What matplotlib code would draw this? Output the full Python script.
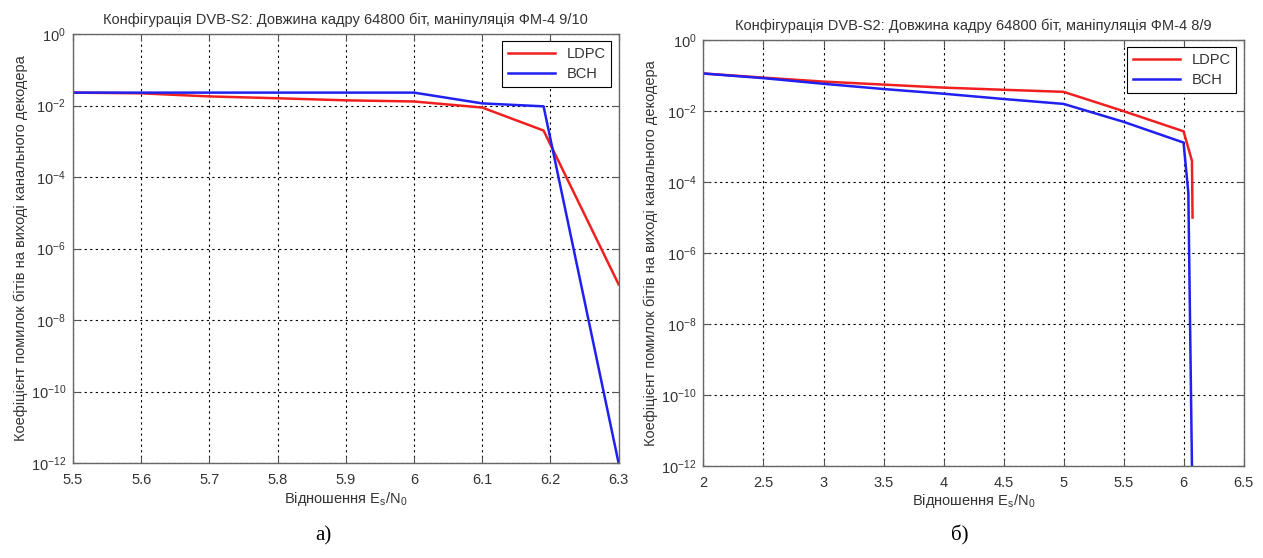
import numpy as np
import matplotlib
matplotlib.use('Agg')
import matplotlib.pyplot as plt
from matplotlib.ticker import FixedLocator, NullLocator

plt.rcParams['font.family'] = ['Liberation Sans', 'DejaVu Sans']

#************ data ****************************************
# (a) FM-4 9/10
es_a      = [5.5, 5.6, 5.7, 5.8, 5.9, 6.0, 6.1, 6.19, 6.3]
ldpc_a    = [2.3e-2, 2.2e-2, 1.8e-2, 1.6e-2, 1.4e-2, 1.3e-2, 8.8e-3, 2.0e-3, 1e-7]
es_a_bch  = [5.5, 6.0, 6.1, 6.19, 6.3]
bch_a     = [2.3e-2, 2.3e-2, 1.15e-2, 9.5e-3, 1e-12]

# (b) FM-4 8/9
es_b      = [2.0, 2.5, 3.0, 3.5, 4.0, 4.5, 5.0, 5.5, 6.0, 6.07, 6.075]
ldpc_b    = [0.115, 0.088, 0.068, 0.056, 0.046, 0.040, 0.035, 0.010, 2.7e-3, 4e-4, 1e-5]
es_b_bch  = [2.0, 2.5, 3.0, 3.5, 4.0, 4.5, 5.0, 5.5, 6.0, 6.04, 6.07]
bch_b     = [0.115, 0.085, 0.059, 0.042, 0.031, 0.022, 0.016, 5e-3, 1.3e-3, 5e-5, 1e-12]

title_a = 'Конфігурація DVB-S2: Довжина кадру 64800 біт, маніпуляція ФМ-4 9/10'
title_b = 'Конфігурація DVB-S2: Довжина кадру 64800 біт, маніпуляція ФМ-4 8/9'
ylabel  = 'Коефіцієнт помилок бітів на виході канального декодера'
xlabel  = 'Відношення E$_\\mathregular{s}$/N$_\\mathregular{0}$'

xticks_a = [5.5, 5.6, 5.7, 5.8, 5.9, 6.0, 6.1, 6.2, 6.3]
xticks_b = [2, 2.5, 3, 3.5, 4, 4.5, 5, 5.5, 6, 6.5]
yticks   = [1e-12, 1e-10, 1e-8, 1e-6, 1e-4, 1e-2, 1e0]
#************ end of data ******************

txt = '#333333'
fig = plt.figure(figsize=(12.63, 5.58), dpi=100)
ax_a = fig.add_axes([0.0578, 0.170, 0.432, 0.769])
ax_b = fig.add_axes([0.557, 0.165, 0.4276, 0.763])


def style(ax, xticks, title):
	ax.set_yscale('log')
	ax.set_ylim(1e-12, 1e0)
	ax.set_xlim(xticks[0], xticks[-1])
	ax.xaxis.set_major_locator(FixedLocator(xticks))
	ax.yaxis.set_major_locator(FixedLocator(yticks))
	ax.yaxis.set_minor_locator(NullLocator())
	ax.set_xticklabels([('%g' % t) for t in xticks])
	ax.tick_params(direction='in', top=True, right=True, length=5, width=0.8,
				   colors='#555555', labelcolor=txt, labelsize=10.5)
	ax.tick_params(axis='x', pad=7)
	ax.tick_params(axis='y', pad=5)
	ax.grid(True, color='black', linestyle=(0, (2, 3)), linewidth=0.8)
	for s in ax.spines.values():
		s.set_color('#666666')
		s.set_linewidth(1.0)
	ax.set_title(title, fontsize=10.5, color=txt, pad=7)
	ax.set_xlabel(xlabel, fontsize=10.5, color=txt, labelpad=2)
	ax.set_ylabel(ylabel, fontsize=10.5, color=txt, labelpad=2)
	leg = ax.legend(loc='upper right', fontsize=10.5, fancybox=False,
					edgecolor='black', framealpha=1, handlelength=3.2,
					borderpad=0.4, labelspacing=0.4, borderaxespad=0.5)
	leg.get_frame().set_linewidth(0.8)
	for t in leg.get_texts():
		t.set_color(txt)


ax_a.plot(es_a, ldpc_a, color='#f02020', lw=1.8, label='LDPC')
ax_a.plot(es_a_bch, bch_a, color='#2020f0', lw=1.8, label='BCH')
style(ax_a, xticks_a, title_a)

ax_b.plot(es_b, ldpc_b, color='#f02020', lw=1.8, label='LDPC')
ax_b.plot(es_b_bch, bch_b, color='#2020f0', lw=1.8, label='BCH')
style(ax_b, xticks_b, title_b)

fig.text(0.256, 0.032, 'а)', fontsize=15, family='Liberation Serif', ha='center')
fig.text(0.760, 0.032, 'б)', fontsize=15, family='Liberation Serif', ha='center')

fig.savefig('out.png', dpi=100)
